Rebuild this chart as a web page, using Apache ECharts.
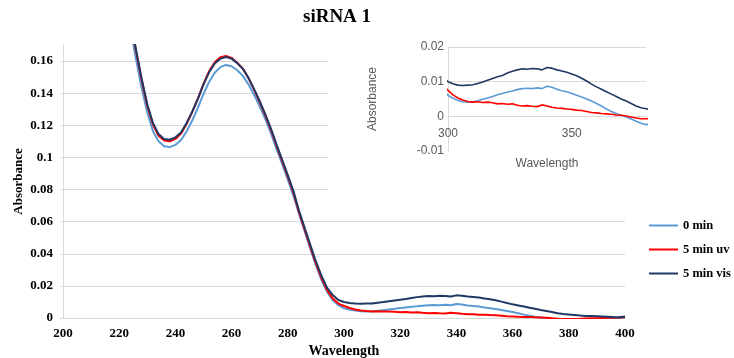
<!DOCTYPE html>
<html>
<head>
<meta charset="utf-8">
<script src="https://cdn.jsdelivr.net/npm/echarts@6/dist/echarts.min.js"></script>
<style>
  html, body { margin: 0; padding: 0; background: #fff; }
  #chart { width: 734px; height: 358px; }
</style>
</head>
<body>
<div id="chart"></div>
<script>
// wavelength (nm), 2 nm steps
const wavelengths = [
  224, 226, 228, 230, 232, 234, 236, 238, 240, 242,
  244, 246, 248, 250, 252, 254, 256, 258, 260, 262,
  264, 266, 268, 270, 272, 274, 276, 278, 280, 282,
  284, 286, 288, 290, 292, 294, 296, 298, 300, 302,
  304, 306, 308, 310, 312, 314, 316, 318, 320, 322,
  324, 326, 328, 330, 332, 334, 336, 338, 340, 342,
  344, 346, 348, 350, 352, 354, 356, 358, 360, 362,
  364, 366, 368, 370, 372, 374, 376, 378, 380, 382,
  384, 386, 388, 390, 392, 394, 396, 398, 400
];

const abs0min = [
  0.180, 0.161, 0.143, 0.128, 0.1165, 0.1100, 0.1070, 0.1064, 0.1078, 0.1108,
  0.1162, 0.1230, 0.1308, 0.1395, 0.1470, 0.1527, 0.1562, 0.1576, 0.1568, 0.1543,
  0.1508, 0.1455, 0.1390, 0.1318, 0.1238, 0.1150, 0.1052, 0.0958, 0.0862, 0.0762,
  0.0648, 0.0540, 0.0432, 0.0328, 0.0236, 0.0162, 0.0110, 0.0080, 0.0060, 0.0052,
  0.0046, 0.0042, 0.0041, 0.0042, 0.0045, 0.0049, 0.0053, 0.0057, 0.0062, 0.0066,
  0.0070, 0.0073, 0.0077, 0.0080, 0.0081, 0.0080, 0.0082, 0.0080, 0.0087, 0.0084,
  0.0078, 0.0074, 0.0071, 0.0066, 0.0061, 0.0056, 0.0050, 0.0044, 0.0037, 0.0030,
  0.0021, 0.0014, 0.0008, 0.0003, -0.0002, -0.0008, -0.0014, -0.0020, -0.0024, -0.0022,
  -0.0020, -0.0018, -0.0016, -0.0014, -0.0011, -0.0008, -0.0005, -0.0002, 0.0004
];

const abs5minUv = [
  0.185, 0.166, 0.148, 0.132, 0.1205, 0.1135, 0.1105, 0.1100, 0.1115, 0.1148,
  0.1210, 0.1283, 0.1366, 0.1458, 0.1537, 0.1593, 0.1624, 0.1632, 0.1620, 0.1590,
  0.1553, 0.1494, 0.1422, 0.1345, 0.1262, 0.1172, 0.1072, 0.0976, 0.0880, 0.0780,
  0.0657, 0.0550, 0.0443, 0.0340, 0.0248, 0.0172, 0.0122, 0.0090, 0.0075, 0.0062,
  0.0053, 0.0047, 0.0043, 0.0041, 0.0042, 0.0040, 0.0041, 0.0039, 0.0036, 0.0037,
  0.0035, 0.0036, 0.0032, 0.0030, 0.0031, 0.0029, 0.0028, 0.0033, 0.0030, 0.0026,
  0.0024, 0.0023, 0.0021, 0.0020, 0.0018, 0.0017, 0.0014, 0.0011, 0.0010, 0.0008,
  0.0007, 0.0006, 0.0004, 0.0003, 0.0001, -0.0002, -0.0005, -0.0007, -0.0007, -0.0006,
  -0.0005, -0.0003, -0.0002, -0.0001, 0.0000, 0.0001, 0.0002, 0.0003, 0.0005
];

const abs5minVis = [
  0.186, 0.167, 0.149, 0.133, 0.1215, 0.1145, 0.1115, 0.1110, 0.1125, 0.1155,
  0.1215, 0.1285, 0.1365, 0.1455, 0.1530, 0.1585, 0.1615, 0.1625, 0.1615, 0.1587,
  0.1552, 0.1495, 0.1425, 0.1350, 0.1268, 0.1180, 0.1080, 0.0985, 0.0890, 0.0790,
  0.0668, 0.0561, 0.0455, 0.0352, 0.0262, 0.0187, 0.0143, 0.0112, 0.0100, 0.0094,
  0.0090, 0.0089, 0.0090, 0.0091, 0.0095, 0.0099, 0.0104, 0.0109, 0.0114, 0.0118,
  0.0125, 0.0130, 0.0134, 0.0137, 0.0136, 0.0138, 0.0137, 0.0134, 0.0141, 0.0139,
  0.0134, 0.0131, 0.0127, 0.0122, 0.0117, 0.0110, 0.0102, 0.0093, 0.0085, 0.0078,
  0.0071, 0.0064, 0.0057, 0.0050, 0.0044, 0.0037, 0.0030, 0.0025, 0.0022, 0.0019,
  0.0015, 0.0012, 0.0012, 0.0011, 0.0010, 0.0008, 0.0006, 0.0005, 0.0010
];

const seriesNames = ["0 min", "5 min uv", "5 min vis"];
const seriesColors = ["#5b9bd5", "#ff0000", "#1f3864"];
const seriesValues = [abs0min, abs5minUv, abs5minVis];

const serif = "'Liberation Serif', 'Times New Roman', serif";
const sans = "'Liberation Sans', Arial, sans-serif";
const gridGray = "#d9d9d9";

const toPairs = (vals) => wavelengths.map((w, i) => [w, vals[i]]);

const chart = echarts.init(document.getElementById("chart"));

const mainSeries = seriesValues.map((vals, i) => ({
  name: seriesNames[i],
  type: "line",
  xAxisIndex: 0,
  yAxisIndex: 0,
  data: toPairs(vals),
  showSymbol: false,
  clip: true,
  lineStyle: { color: seriesColors[i], width: 2 },
  itemStyle: { color: seriesColors[i] },
  z: 2
}));

// inset zoom on 300-380 nm
const insetSeries = seriesValues.map((vals, i) => ({
  name: seriesNames[i],
  type: "line",
  xAxisIndex: 1,
  yAxisIndex: 1,
  data: toPairs(vals),
  showSymbol: false,
  clip: true,
  lineStyle: { color: seriesColors[i], width: 1.6 },
  itemStyle: { color: seriesColors[i] },
  z: 5
}));

chart.setOption({
  animation: false,
  backgroundColor: "#fff",
  title: {
    text: "siRNA 1",
    left: 303,
    top: 8,
    padding: 0,
    textStyle: { fontFamily: serif, fontSize: 19, fontWeight: "bold", color: "#000" }
  },
  legend: {
    orient: "vertical",
    left: 649,
    top: 219,
    padding: 0,
    itemWidth: 29,
    itemHeight: 2,
    itemGap: 11,
    icon: "rect",
    data: seriesNames,
    textStyle: { fontFamily: serif, fontSize: 12.5, fontWeight: "bold", color: "#000" }
  },
  graphic: [{
    type: "rect",
    z: 1,
    shape: { x: 328, y: 28, width: 330, height: 176 },
    style: { fill: "#fff" }
  }],
  grid: [
    { left: 63, right: 109, top: 45, bottom: 40, containLabel: false, outerBoundsMode: "none" },
    { left: 448, top: 47, width: 198, height: 104, containLabel: false, outerBoundsMode: "none" }
  ],
  xAxis: [
    {
      type: "value",
      gridIndex: 0,
      min: 200, max: 400, interval: 20,
      name: "Wavelength",
      nameLocation: "middle",
      nameGap: 26,
      nameMoveOverlap: false,
      nameTextStyle: { fontFamily: serif, fontSize: 14, fontWeight: "bold", color: "#000" },
      axisLine: { show: true, onZero: false, lineStyle: { color: gridGray, width: 1 } },
      axisTick: { show: false },
      splitLine: { show: false },
      axisLabel: { fontFamily: serif, fontSize: 13, fontWeight: "bold", color: "#000", margin: 9 }
    },
    {
      type: "value",
      gridIndex: 1,
      min: 300, max: 380, interval: 50,
      position: "bottom",
      offset: -35,
      name: "Wavelength",
      nameLocation: "middle",
      nameGap: 42,
      nameTextStyle: { fontFamily: sans, fontSize: 12, color: "#595959" },
      axisLine: { show: true, onZero: false, lineStyle: { color: gridGray, width: 1 } },
      axisTick: { show: false },
      splitLine: { show: false },
      axisLabel: { fontFamily: sans, fontSize: 12, color: "#595959", margin: 12, showMaxLabel: false },
      z: 3
    }
  ],
  yAxis: [
    {
      type: "value",
      gridIndex: 0,
      min: 0, max: 0.17, interval: 0.02,
      name: "Absorbance",
      nameLocation: "middle",
      nameGap: 38,
      nameMoveOverlap: false,
      nameTextStyle: { fontFamily: serif, fontSize: 13, fontWeight: "bold", color: "#000" },
      axisLine: { show: true, lineStyle: { color: gridGray, width: 1 } },
      axisTick: { show: true, length: 3, lineStyle: { color: gridGray } },
      splitLine: { show: true, showMaxLine: false, lineStyle: { color: gridGray, width: 1 } },
      axisLabel: { fontFamily: serif, fontSize: 13, fontWeight: "bold", color: "#000", margin: 10, showMaxLabel: false }
    },
    {
      type: "value",
      gridIndex: 1,
      min: -0.01, max: 0.02, interval: 0.01,
      name: "Absorbance",
      nameLocation: "middle",
      nameGap: 69,
      nameTextStyle: { fontFamily: sans, fontSize: 12, color: "#595959" },
      axisLine: { show: true, lineStyle: { color: gridGray, width: 1 } },
      axisTick: { show: false },
      splitLine: { show: true, showMinLine: false, lineStyle: { color: gridGray, width: 1 } },
      axisLabel: { fontFamily: sans, fontSize: 12, color: "#595959", margin: 4 },
      z: 3
    }
  ],
  series: mainSeries.concat(insetSeries)
});
</script>
</body>
</html>
